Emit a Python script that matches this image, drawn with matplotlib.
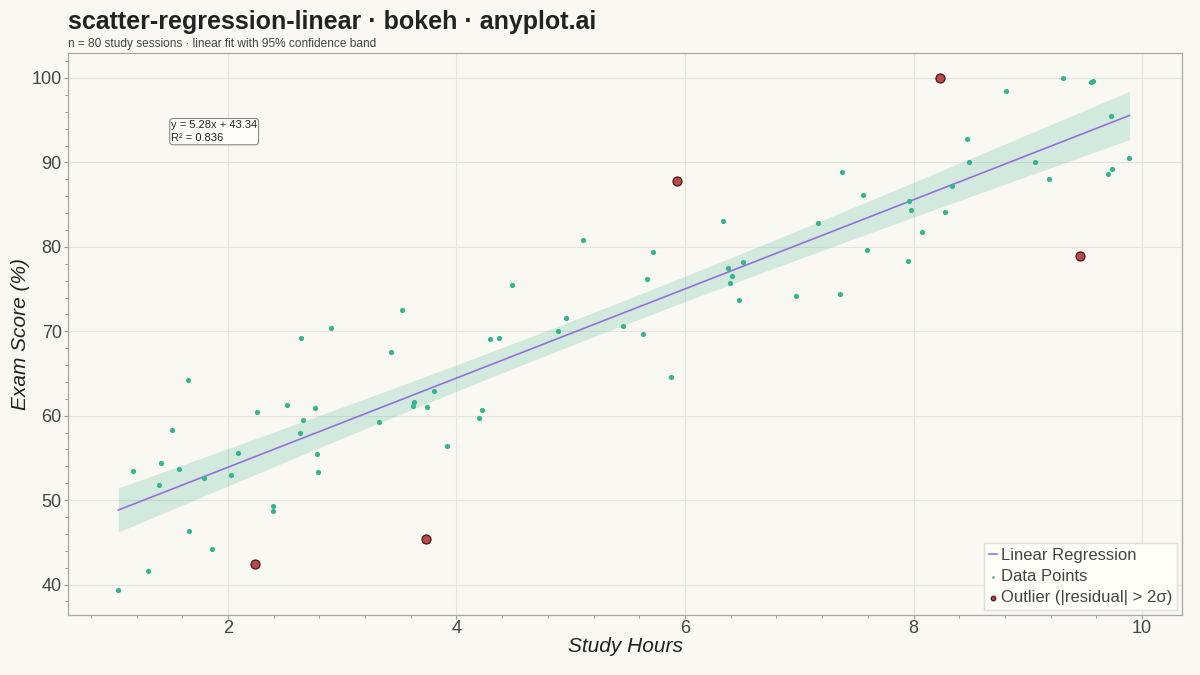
import numpy as np
import matplotlib.pyplot as plt
from matplotlib.ticker import MultipleLocator

# study hours / exam score
hours = [1.04, 1.30, 1.17, 1.41, 1.40, 1.51, 1.57, 1.65, 1.66, 1.79,
         1.86, 2.03, 2.09, 2.25, 2.39, 2.39, 2.52, 2.64, 2.63, 2.66,
         2.76, 2.78, 2.79, 2.90, 3.32, 3.43, 3.52, 3.62, 3.63, 3.74,
         3.80, 3.92, 4.20, 4.22, 4.29, 4.37, 4.49, 4.89, 4.96, 5.11,
         5.46, 5.63, 5.67, 5.72, 5.88, 6.33, 6.38, 6.41, 6.39, 6.47,
         6.51, 6.97, 7.16, 7.37, 7.36, 7.56, 7.59, 7.95, 7.96, 7.98,
         8.07, 8.28, 8.34, 8.47, 8.49, 8.81, 9.06, 9.19, 9.31, 9.55,
         9.57, 9.73, 9.70, 9.74, 9.89]
scores = [39.4, 41.6, 53.4, 54.4, 51.8, 58.3, 53.7, 64.2, 46.4, 52.6,
          44.2, 53.0, 55.6, 60.4, 49.3, 48.7, 61.3, 69.2, 57.9, 59.5,
          60.9, 55.5, 53.3, 70.4, 59.2, 67.5, 72.5, 61.1, 61.6, 61.0,
          62.9, 56.4, 59.7, 60.7, 69.1, 69.2, 75.5, 70.0, 71.6, 80.8,
          70.6, 69.7, 76.2, 79.4, 64.6, 83.1, 77.5, 76.5, 75.7, 73.7,
          78.2, 74.2, 82.8, 88.9, 74.4, 86.1, 79.6, 78.3, 85.4, 84.4,
          81.8, 84.1, 87.2, 92.8, 90.0, 98.5, 90.0, 88.0, 100.0, 99.5,
          99.6, 95.5, 88.6, 89.2, 90.5]

# points flagged |residual| > 2 sigma
out_hours = [2.24, 3.73, 5.93, 8.23, 9.46]
out_scores = [42.4, 45.4, 87.8, 100.0, 78.9]

slope = 5.28
intercept = 43.34
r_squared = 0.836

BG = '#FAF8F2'
TEAL = '#36B38F'
PURPLE = '#9370DB'
RED = '#C0474A'

plt.rcParams['font.family'] = ['Liberation Sans', 'DejaVu Sans']

x_all = np.array(hours + out_hours)
y_all = np.array(scores + out_scores)
n = len(x_all)

# 95% confidence band of the fitted line
resid = y_all - (slope * x_all + intercept)
s = np.sqrt(np.sum(resid ** 2) / (n - 2))
x_mean = x_all.mean()
sxx = np.sum((x_all - x_mean) ** 2)
t_val = 1.991
x_line = np.linspace(x_all.min(), x_all.max(), 200)
y_line = slope * x_line + intercept
se = s * np.sqrt(1.0 / n + (x_line - x_mean) ** 2 / sxx)

fig = plt.figure(figsize=(12, 6.75), dpi=100, facecolor=BG)
ax = fig.add_axes([0.0567, 0.0889, 0.9283, 0.8326])
ax.set_facecolor(BG)

ax.fill_between(x_line, y_line - t_val * se, y_line + t_val * se,
                color=TEAL, alpha=0.2, linewidth=0, zorder=2)
ax.plot(x_line, y_line, color=PURPLE, lw=1.2, zorder=3, label='Linear Regression')
ax.scatter(hours, scores, s=14, color=TEAL, linewidths=0, zorder=4, label='Data Points')
ax.scatter(out_hours, out_scores, s=42, color=RED, edgecolors='#3a1a1a',
           linewidths=0.9, zorder=5, label='Outlier (|residual| > 2σ)')

ax.set_xlim(0.6, 10.35)
ax.set_ylim(36.4, 102.96)
ax.xaxis.set_major_locator(MultipleLocator(2))
ax.xaxis.set_minor_locator(MultipleLocator(0.4))
ax.yaxis.set_major_locator(MultipleLocator(10))
ax.yaxis.set_minor_locator(MultipleLocator(2))
ax.grid(True, which='major', color='#E6E3DB', lw=0.8, zorder=0)
ax.set_axisbelow(True)

for sp in ax.spines.values():
    sp.set_color('#A8A8A8')
    sp.set_linewidth(0.9)
ax.tick_params(which='major', length=3, width=0.8, color='#999999',
               labelsize=13, labelcolor='#444444', pad=1.5)
ax.tick_params(axis='x', which='major', pad=0.5)
ax.tick_params(which='minor', length=2.5, width=0.7, color='#999999')

ax.set_xlabel('Study Hours', fontsize=15, style='italic', color='#222222')
ax.set_ylabel('Exam Score (%)', fontsize=15, style='italic', color='#222222')
ax.xaxis.label.set_verticalalignment('center')
ax.yaxis.label.set_verticalalignment('center')
ax.xaxis.set_label_coords(0.5, -0.056)
ax.yaxis.set_label_coords(-0.043, 0.5)

ax.text(0.0925, 0.881, 'y = %.2fx + %.2f\nR² = %.3f' % (slope, intercept, r_squared),
        transform=ax.transAxes, ha='left', va='top', fontsize=8, color='#222222',
        linespacing=1.45,
        bbox=dict(boxstyle='round,pad=0.12,rounding_size=0.3', fc='#FFFEFA',
                  ec='#888888', lw=0.8))

leg = ax.legend(loc='lower right', fontsize=12, frameon=True, fancybox=False,
                handlelength=0.5, handletextpad=0.2, borderpad=0.3,
                labelspacing=0.35, borderaxespad=0.3, markerscale=0.5)
leg.get_frame().set_facecolor('#FFFEF8')
leg.get_frame().set_edgecolor('#DDDDDD')
leg.get_frame().set_alpha(1.0)
for txt in leg.get_texts():
    txt.set_color('#444444')

fig.text(0.0567, 0.968, 'scatter-regression-linear · bokeh · anyplot.ai',
         fontsize=18, fontweight='bold', color='#222222', ha='left', va='center')
fig.text(0.0567, 0.9345, 'n = 80 study sessions · linear fit with 95% confidence band',
         fontsize=8.6, color='#444444', ha='left', va='center')

fig.savefig('out.png', dpi=100, facecolor=BG)
